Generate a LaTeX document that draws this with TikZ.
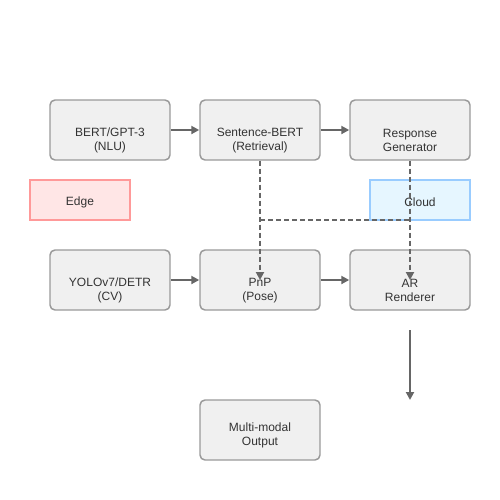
\documentclass[tikz,border=0pt]{standalone}
\usepackage{fontspec}
\setmainfont{Liberation Sans}
\usetikzlibrary{arrows.meta}
\definecolor{boxfill}{HTML}{F0F0F0}
\definecolor{boxdraw}{HTML}{999999}
\definecolor{arrowc}{HTML}{666666}
\definecolor{txt}{HTML}{333333}
\definecolor{edgefill}{HTML}{FFE6E6}
\definecolor{edgedraw}{HTML}{FF9999}
\definecolor{cloudfill}{HTML}{E6F6FF}
\definecolor{clouddraw}{HTML}{99CCFF}
\begin{document}
\begin{tikzpicture}[x=0.75pt,y=-0.75pt,
  box/.style={draw=boxdraw, fill=boxfill, line width=1.1pt, rounded corners=3.75pt,
    minimum width=90pt, minimum height=45pt, inner sep=0pt},
  zone/.style={line width=1.1pt, minimum width=75pt, minimum height=30pt, inner sep=0pt},
  ztext/.style={text=txt, font=\fontsize{9}{11}\selectfont, inner sep=0pt},
  lbl/.style={align=center, text=txt, font=\fontsize{9}{11}\selectfont, inner sep=0pt},
  flow/.style={draw=arrowc, line width=1.5pt, -{Triangle[length=6pt,width=6pt]}},
  dflow/.style={flow, dash pattern=on 3.75pt off 2.25pt},
  dline/.style={draw=arrowc, line width=1.5pt, dash pattern=on 3.75pt off 2.25pt}]
\useasboundingbox (0,0) rectangle (500,500);
\node[box, label={[lbl, yshift=-7.9pt]center:{BERT/GPT-3\\(NLU)}}] (bert) at (110,130) {};
\node[box, label={[lbl, yshift=-7.9pt]center:{Sentence-BERT\\(Retrieval)}}] (sbert) at (260,130) {};
\node[box, label={[lbl, yshift=-7.9pt]center:{Response\\Generator}}] (resp) at (410,130) {};
\node[zone, draw=edgedraw, fill=edgefill, label={[ztext, yshift=-1.5pt]center:Edge}] (edge) at (80,200) {};
\node[zone, draw=clouddraw, fill=cloudfill, label={[ztext, yshift=-1.5pt]center:Cloud}] (cloud) at (420,200) {};
\node[box, label={[lbl, yshift=-7.9pt]center:{YOLOv7/DETR\\(CV)}}] (yolo) at (110,280) {};
\node[box, label={[lbl, yshift=-7.9pt]center:{PnP\\(Pose)}}] (pnp) at (260,280) {};
\node[box, label={[lbl, yshift=-7.9pt]center:{AR\\Renderer}}] (ar) at (410,280) {};
\node[box, label={[lbl, yshift=-4.1pt]center:{Multi-modal\\Output}}] (out) at (260,430) {};
\coordinate (j1) at (260,220);
\coordinate (j2) at (410,220);
\coordinate (ds) at (410,330);
\coordinate (de) at (410,400);
\draw[flow] (bert.east) -- (sbert.west);
\draw[flow] (sbert.east) -- (resp.west);
\draw[flow] (yolo.east) -- (pnp.west);
\draw[flow] (pnp.east) -- (ar.west);
\draw[dflow] (sbert.south) -- (pnp.center);
\draw[dflow] (resp.south) -- (ar.center);
\draw[dline] (j1) -- (j2);
\draw[flow] (ds) -- (de);
\end{tikzpicture}
\end{document}
